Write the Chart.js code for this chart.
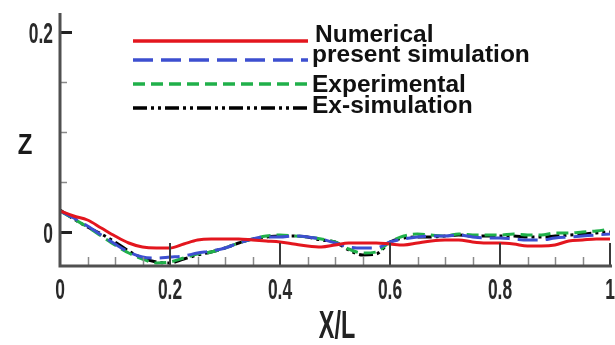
<!DOCTYPE html>
<html>
<head>
<meta charset="utf-8">
<script src="https://cdn.jsdelivr.net/npm/chart.js@4"></script>
<style>
  html, body { margin: 0; padding: 0; background: #fff; }
  #wrap { width: 615px; height: 345px; }
</style>
</head>
<body>
<div id="wrap"><canvas id="chart" width="615" height="345"></canvas></div>
<script>
const xs = [0, 0.025, 0.05, 0.075, 0.1, 0.125, 0.15, 0.175, 0.2, 0.225, 0.25, 0.275, 0.3, 0.325, 0.35, 0.375, 0.4,
    0.425, 0.45, 0.475, 0.5, 0.525, 0.55, 0.575, 0.6, 0.625, 0.65, 0.675, 0.7, 0.725, 0.75, 0.775, 0.8,
    0.825, 0.85, 0.875, 0.9, 0.925, 0.95, 0.975, 1];

const numerical = [0.021, 0.016, 0.012, 0.004, -0.004, -0.011, -0.015, -0.016, -0.016, -0.012, -0.008, -0.007, -0.007,
    -0.007, -0.008, -0.009, -0.010, -0.012, -0.014, -0.015, -0.013, -0.011, -0.011, -0.011, -0.012, -0.013, -0.011,
    -0.009, -0.008, -0.008, -0.010, -0.011, -0.011, -0.012, -0.014, -0.014, -0.013, -0.009, -0.008, -0.007, -0.007];

const presentSim = [0.021, 0.014, 0.006, -0.003, -0.012, -0.020, -0.025, -0.026, -0.025, -0.024, -0.021, -0.019, -0.016,
    -0.011, -0.007, -0.005, -0.005, -0.004, -0.005, -0.007, -0.011, -0.015, -0.016, -0.016, -0.010, -0.007, -0.005,
    -0.004, -0.004, -0.003, -0.005, -0.006, -0.006, -0.007, -0.008, -0.008, -0.006, -0.005, -0.004, -0.003, -0.002];

const experimental = [0.021, 0.013, 0.005, -0.004, -0.013, -0.021, -0.027, -0.031, -0.030, -0.026, -0.022, -0.020, -0.016,
    -0.011, -0.007, -0.004, -0.003, -0.004, -0.005, -0.007, -0.010, -0.017, -0.021, -0.020, -0.010, -0.004, -0.002,
    -0.003, -0.004, -0.002, -0.003, -0.003, -0.003, -0.002, -0.003, -0.003, -0.001, -0.001, 0.000, 0.001, 0.003];

const exSim = [0.022, 0.013, 0.005, -0.002, -0.010, -0.019, -0.026, -0.030, -0.031, -0.027, -0.023, -0.020, -0.016,
    -0.011, -0.007, -0.005, -0.004, -0.004, -0.005, -0.008, -0.010, -0.018, -0.023, -0.022, -0.010, -0.006, -0.005,
    -0.005, -0.004, -0.003, -0.004, -0.004, -0.004, -0.004, -0.005, -0.005, -0.004, -0.003, -0.002, -0.001, 0.000];

const seriesNames = ["Numerical", "present simulation", "Experimental", "Ex-simulation"];
const xTicks = [0, 0.2, 0.4, 0.6, 0.8, 1];
const xTickLabels = ["0", "0.2", "0.4", "0.6", "0.8", "1"];
const yTicks = [0, 0.2];
const yTickLabels = ["0", "0.2"];
const xMinorTicks = [0.05, 0.1, 0.15, 0.25, 0.3, 0.35, 0.45, 0.5, 0.55, 0.65, 0.7, 0.75, 0.85, 0.9, 0.95];
const yMinorTicks = [0.05, 0.1, 0.15];

const toPts = arr => arr.map((v, i) => ({ x: xs[i], y: v }));

// narrow tall text, like the original figure
function condensedText(ctx, text, x, y, size, sx, align, weight, color) {
    ctx.save();
    ctx.font = `${weight || "normal"} ${size}px "Liberation Sans", Arial, sans-serif`;
    ctx.fillStyle = color;
    ctx.textBaseline = "middle";
    const w = ctx.measureText(text).width * sx;
    let left = x;
    if (align === "center") left = x - w / 2;
    else if (align === "right") left = x - w;
    ctx.translate(left, y);
    ctx.scale(sx, 1);
    ctx.textAlign = "left";
    ctx.fillText(text, 0, 0);
    ctx.restore();
}

const axesPlugin = {
    id: "axesPlugin",
    afterDatasetsDraw(chart) {
        const { ctx, chartArea: a, scales } = chart;
        const xs_ = scales.x, ys_ = scales.y;
        ctx.save();
        // minor ticks
        ctx.strokeStyle = "#8a8a8a";
        ctx.lineWidth = 1.5;
        xMinorTicks.forEach(t => {
            const px = Math.round(xs_.getPixelForValue(t)) + 0.5;
            ctx.beginPath(); ctx.moveTo(px, a.bottom); ctx.lineTo(px, a.bottom - 9); ctx.stroke();
        });
        yMinorTicks.forEach(t => {
            const py = Math.round(ys_.getPixelForValue(t)) + 0.5;
            ctx.beginPath(); ctx.moveTo(a.left, py); ctx.lineTo(a.left + 7, py); ctx.stroke();
        });
        // major ticks
        ctx.strokeStyle = "#3a3a3a";
        ctx.lineWidth = 2;
        xTicks.forEach(t => {
            const px = Math.round(xs_.getPixelForValue(t));
            ctx.beginPath(); ctx.moveTo(px, a.bottom); ctx.lineTo(px, a.bottom - 23); ctx.stroke();
        });
        ctx.strokeStyle = "#222";
        ctx.lineWidth = 3;
        yTicks.forEach(t => {
            const py = Math.round(ys_.getPixelForValue(t)) + 0.5;
            ctx.beginPath(); ctx.moveTo(a.left, py); ctx.lineTo(a.left + 12, py); ctx.stroke();
        });
        // axis lines
        ctx.strokeStyle = "#505050";
        ctx.lineWidth = 3;
        ctx.beginPath();
        ctx.moveTo(a.left, a.top);
        ctx.lineTo(a.left, a.bottom);
        ctx.lineTo(a.right + 2, a.bottom);
        ctx.stroke();
        ctx.restore();

        // tick labels
        xTicks.forEach((t, i) => {
            condensedText(ctx, xTickLabels[i], xs_.getPixelForValue(t), a.bottom + 25, 30, 0.58, "center", "bold", "#2a2a2a");
        });
        yTicks.forEach((t, i) => {
            condensedText(ctx, yTickLabels[i], a.left - 7, ys_.getPixelForValue(t) + 3, 30, 0.58, "right", "bold", "#2a2a2a");
        });
        // axis titles
        condensedText(ctx, "X/L", (a.left + a.right) / 2 + 2, a.bottom + 61, 39, 0.6, "center", "bold", "#222");
        condensedText(ctx, "Z", 25, 146, 30, 0.8, "center", "bold", "#1a1a1a");

        // legend
        const rows = [41, 60, 84, 108];
        const base = [42, 62, 92, 113];
        chart.data.datasets.forEach((ds, i) => {
            ctx.save();
            ctx.strokeStyle = ds.borderColor;
            ctx.lineWidth = 3.5;
            ctx.setLineDash(ds.borderDash || []);
            ctx.beginPath();
            ctx.moveTo(133, rows[i]);
            ctx.lineTo(308, rows[i]);
            ctx.stroke();
            ctx.restore();
            ctx.save();
            ctx.font = 'bold 24.5px "Liberation Sans", Arial, sans-serif';
            ctx.fillStyle = "#111";
            ctx.textBaseline = "alphabetic";
            ctx.fillText(ds.label, i === 0 ? 315 : 312, base[i]);
            ctx.restore();
        });
    }
};

new Chart(document.getElementById("chart").getContext("2d"), {
    type: "line",
    data: {
        datasets: [
            { label: seriesNames[0], data: toPts(numerical), borderColor: "#e3161e", borderWidth: 3, borderDash: [], order: 1 },
            { label: seriesNames[1], data: toPts(presentSim), borderColor: "#3d4fd0", borderWidth: 3, borderDash: [20, 8], order: 2 },
            { label: seriesNames[2], data: toPts(experimental), borderColor: "#20b04a", borderWidth: 3, borderDash: [12, 6], order: 3 },
            { label: seriesNames[3], data: toPts(exSim), borderColor: "#000000", borderWidth: 3, borderDash: [14, 4, 3, 4, 3, 4], order: 4 }
        ]
    },
    options: {
        responsive: false,
        animation: false,
        layout: { padding: { left: 60, right: 5, top: 13, bottom: 79 } },
        elements: { point: { radius: 0 }, line: { tension: 0.4, cubicInterpolationMode: "monotone" } },
        plugins: { legend: { display: false }, tooltip: { enabled: false } },
        scales: {
            x: { type: "linear", min: 0, max: 1, display: false },
            y: { type: "linear", min: -0.034, max: 0.219, display: false }
        }
    },
    plugins: [axesPlugin]
});
</script>
</body>
</html>
